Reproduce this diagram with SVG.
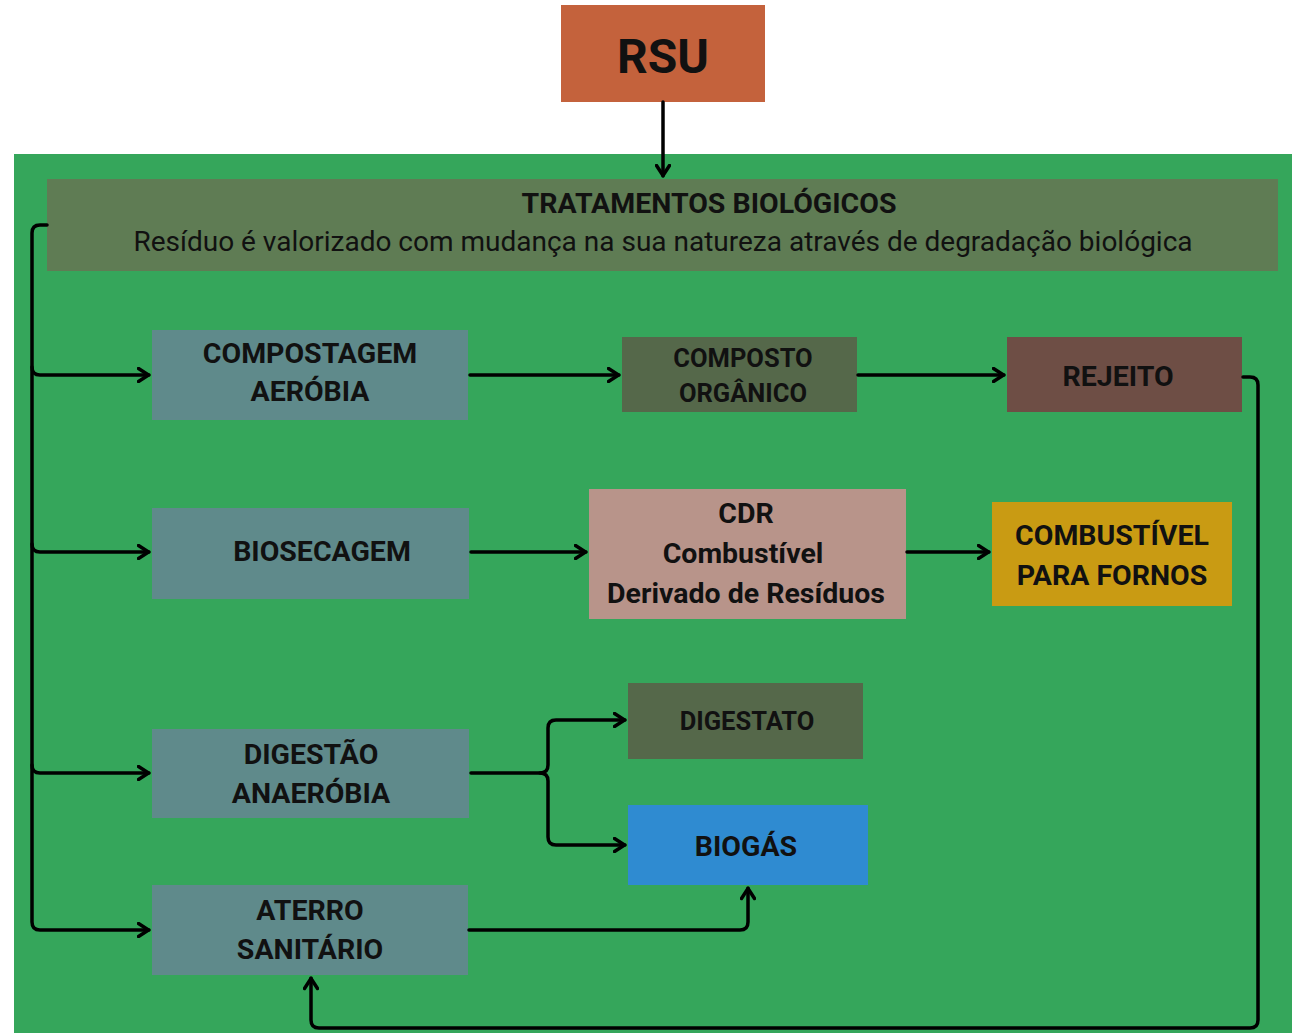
<svg xmlns="http://www.w3.org/2000/svg" width="1292" height="1033" viewBox="0 0 1292 1033">
<defs>
<style>
.t{font-family:Roboto,"Liberation Sans",sans-serif;font-weight:700;font-size:28.5px;fill:#111;text-anchor:middle;dominant-baseline:central}
.r{font-weight:400;font-size:28px}
.s{font-size:25.5px}
.c{fill:none;stroke:#000;stroke-width:3.5;stroke-linejoin:round;stroke-linecap:round}
</style>
<marker id="a" viewBox="0 0 14 16" refX="12.5" refY="8" markerWidth="14" markerHeight="16" markerUnits="userSpaceOnUse" orient="auto">
<path d="M2,1.5 L12,8 L2,14.5" fill="none" stroke="#000" stroke-width="3.5" stroke-linecap="round" stroke-linejoin="round"/>
</marker>
</defs>
<rect width="1292" height="1033" fill="#fff"/>
<rect x="14" y="154" width="1278" height="879" fill="#35a65b"/>
<g id="rsu"><rect x="561" y="5" width="204" height="97" fill="#c4623c"/><text class="t" x="663" y="56" style="font-size:48px">RSU</text></g>
<g id="tratamentos"><rect x="47" y="179" width="1231" height="92" fill="#5f7c54"/>
<text class="t" x="709" y="203">TRATAMENTOS BIOLÓGICOS</text>
<text class="t r" x="663" y="241">Resíduo é valorizado com mudança na sua natureza através de degradação biológica</text></g>
<g id="compostagem"><rect x="152" y="330" width="316" height="90" fill="#5f8a8b"/><text class="t" x="310" y="353">COMPOSTAGEM</text><text class="t" x="310" y="391">AERÓBIA</text></g>
<g id="composto"><rect x="622" y="337" width="235" height="75" fill="#55684a"/><text class="t s" x="743" y="358">COMPOSTO</text><text class="t s" x="743" y="393">ORGÂNICO</text></g>
<g id="rejeito"><rect x="1007" y="337" width="235" height="75" fill="#6e4e45"/><text class="t" x="1118" y="376">REJEITO</text></g>
<g id="biosecagem"><rect x="152" y="508" width="317" height="91" fill="#5f8a8b"/><text class="t" x="322" y="551">BIOSECAGEM</text></g>
<g id="cdr"><rect x="589" y="489" width="317" height="130" fill="#b8948a"/><text class="t" x="746" y="513">CDR</text><text class="t" x="743" y="553">Combustível</text><text class="t" x="746" y="593">Derivado de Resíduos</text></g>
<g id="combustivel"><rect x="992" y="502" width="240" height="104" fill="#c99b13"/><text class="t" x="1112" y="535">COMBUSTÍVEL</text><text class="t" x="1112" y="575">PARA FORNOS</text></g>
<g id="digestao"><rect x="152" y="729" width="317" height="89" fill="#5f8a8b"/><text class="t" x="311" y="754">DIGESTÃO</text><text class="t" x="311" y="793">ANAERÓBIA</text></g>
<g id="digestato"><rect x="628" y="683" width="235" height="76" fill="#55684a"/><text class="t s" x="747" y="721">DIGESTATO</text></g>
<g id="biogas"><rect x="628" y="805" width="240" height="80" fill="#2f8bd1"/><text class="t" x="746" y="846">BIOGÁS</text></g>
<g id="aterro"><rect x="152" y="885" width="316" height="90" fill="#5f8a8b"/><text class="t" x="310" y="910">ATERRO</text><text class="t" x="310" y="949">SANITÁRIO</text></g>
<g id="connectors">
<path class="c" d="M663,102 V176" marker-end="url(#a)"/>
<path class="c" d="M47,225 H40 Q32,225 32,233 V922 Q32,930 40,930 H149" marker-end="url(#a)"/>
<path class="c" d="M32,367 Q32,375 40,375 H149" marker-end="url(#a)"/>
<path class="c" d="M32,544 Q32,552 40,552 H149" marker-end="url(#a)"/>
<path class="c" d="M32,765 Q32,773 40,773 H149" marker-end="url(#a)"/>
<path class="c" d="M470,375 H619" marker-end="url(#a)"/>
<path class="c" d="M858,375 H1004" marker-end="url(#a)"/>
<path class="c" d="M1243,377 H1250 Q1258,377 1258,385 V1020 Q1258,1028 1250,1028 H319 Q311,1028 311,1020 V978" marker-end="url(#a)"/>
<path class="c" d="M471,552 H586" marker-end="url(#a)"/>
<path class="c" d="M907,552 H989" marker-end="url(#a)"/>
<path class="c" d="M471,773 H540 Q548,773 548,765 V728 Q548,720 556,720 H625" marker-end="url(#a)"/>
<path class="c" d="M540,773 Q548,773 548,781 V837 Q548,845 556,845 H625" marker-end="url(#a)"/>
<path class="c" d="M469,930 H740 Q748,930 748,922 V888" marker-end="url(#a)"/>
</g>
</svg>
